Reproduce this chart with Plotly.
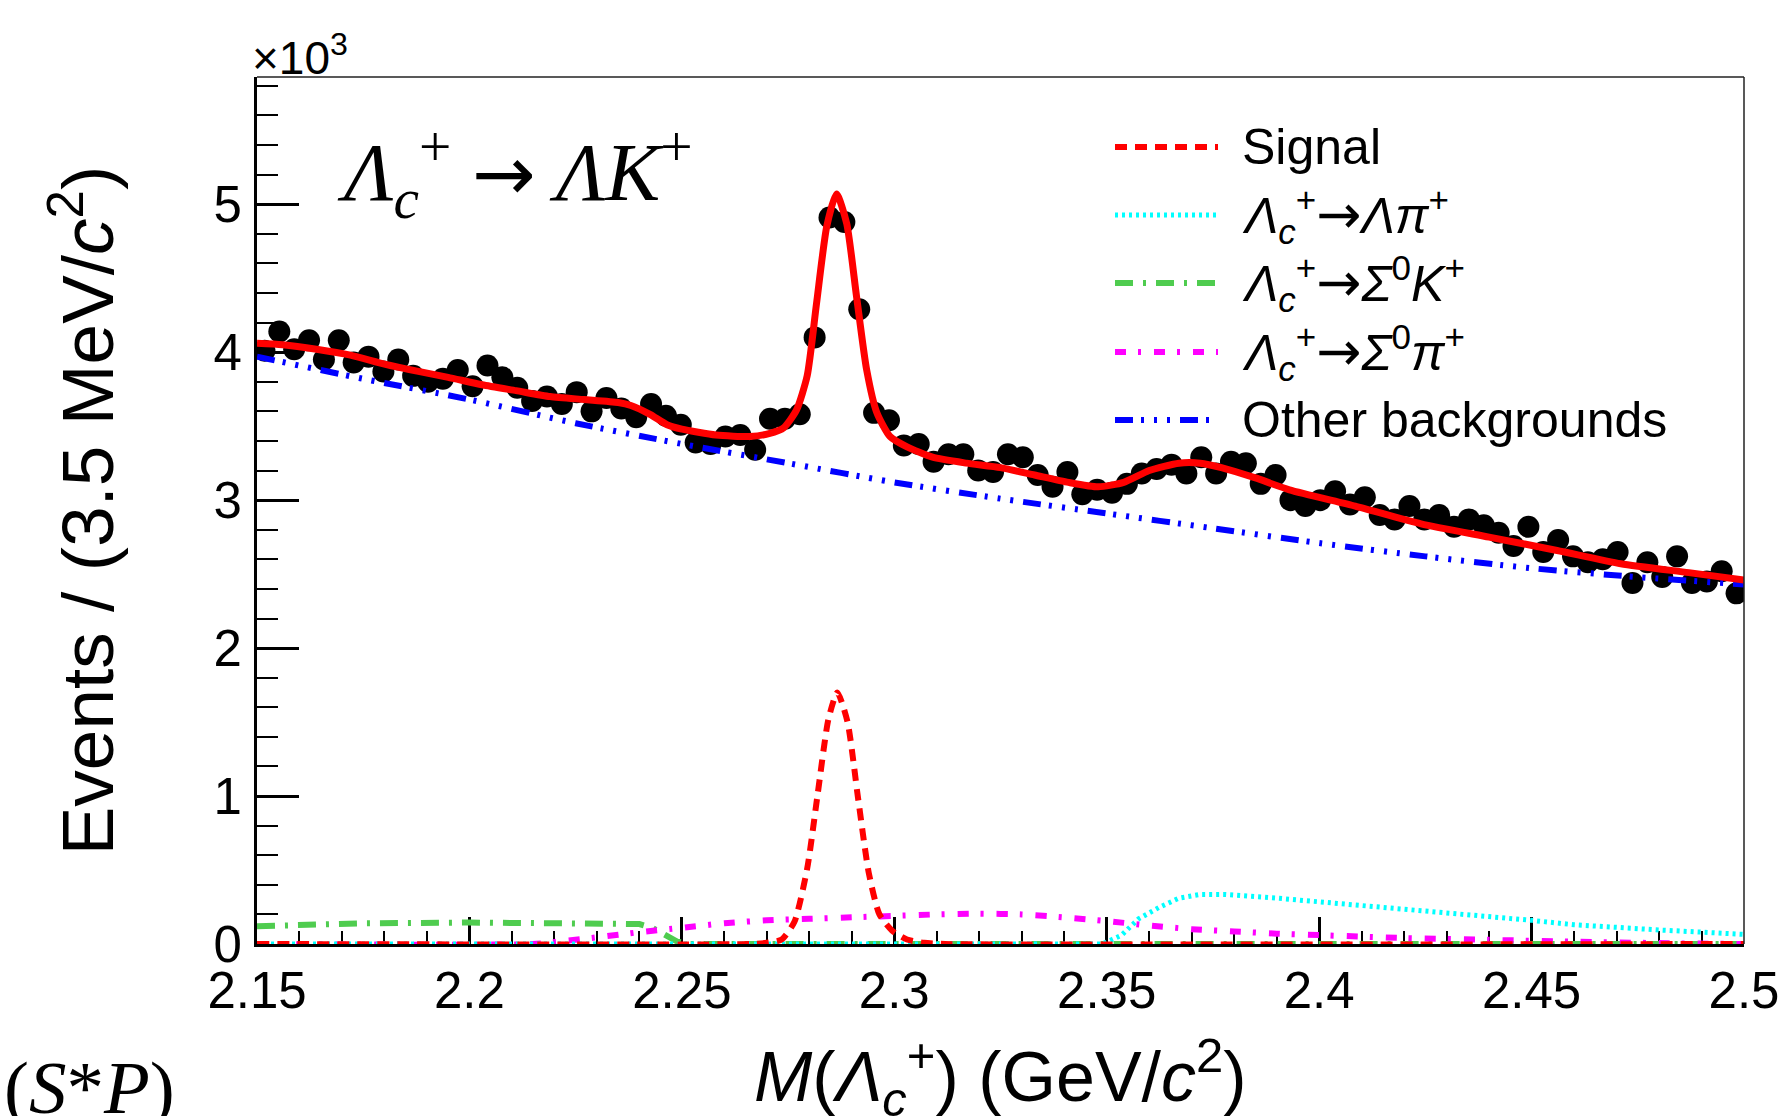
import plotly.graph_objects as go

# ---- Λc+ -> ΛK+ candidate mass spectrum, 3.5 MeV/c^2 bins from 2.15 GeV/c^2 ----
BIN_LO = 2.15
BIN_WIDTH = 0.0035

data_counts = [
    4010, 4140, 4020, 4080, 3950, 4080, 3930, 3970, 3870, 3950,
    3840, 3800, 3820, 3880, 3770, 3910, 3830, 3760, 3670, 3700,
    3650, 3730, 3600, 3690, 3620, 3560, 3650, 3570, 3510, 3390,
    3380, 3430, 3440, 3340, 3550, 3550, 3580, 4100, 4910, 4880,
    4290, 3590, 3540, 3370, 3380, 3260, 3310, 3310, 3200, 3190,
    3310, 3290, 3170, 3090, 3190, 3040, 3070, 3050, 3110, 3180,
    3210, 3240, 3180, 3290, 3180, 3260, 3250, 3110, 3170, 3000,
    2960, 3000, 3060, 2970, 3020, 2900, 2870, 2960, 2870, 2900,
    2820, 2870, 2830, 2780, 2690, 2820, 2650, 2730, 2620, 2580,
    2600, 2650, 2440, 2580, 2480, 2620, 2440, 2450, 2520, 2370,
]
bin_centers = [round(BIN_LO + BIN_WIDTH * (i + 0.5), 5) for i in range(len(data_counts))]

# ---- fit curves, sampled along M(Λc+) in GeV/c^2, events per bin ----
total_mass = [2.15, 2.156, 2.164, 2.172, 2.18, 2.188, 2.195, 2.203, 2.211, 2.219,
              2.227, 2.235, 2.238, 2.2425, 2.2465, 2.25, 2.258, 2.266, 2.2705, 2.274,
              2.277, 2.2795, 2.2817, 2.2841, 2.2864, 2.2888, 2.2911, 2.2935, 2.2959, 2.299,
              2.303, 2.309, 2.317, 2.325, 2.333, 2.341, 2.348, 2.354, 2.36, 2.367,
              2.372, 2.377, 2.385, 2.393, 2.4085, 2.424, 2.44, 2.456, 2.471, 2.487, 2.5]
total_fit = [4060, 4050, 4020, 3980, 3920, 3870, 3830, 3780, 3740, 3700,
             3680, 3660, 3640, 3580, 3510, 3480, 3440, 3430, 3450, 3490,
             3610, 3840, 4330, 4850, 5070, 4870, 4380, 3880, 3590, 3430,
             3360, 3290, 3250, 3220, 3170, 3120, 3090, 3120, 3200, 3250,
             3250, 3220, 3150, 3070, 2960, 2840, 2750, 2660, 2570, 2510, 2460]

other_mass = [2.15, 2.175, 2.2, 2.225, 2.25, 2.275, 2.3, 2.325, 2.35, 2.375,
              2.4, 2.425, 2.45, 2.475, 2.5]
other_bkg = [3970, 3820, 3680, 3520, 3380, 3250, 3120, 3010, 2910, 2810,
             2710, 2620, 2540, 2480, 2430]

signal_mass = [2.15, 2.266, 2.27, 2.2735, 2.2765, 2.2795, 2.282, 2.2845, 2.2866, 2.289,
               2.2915, 2.294, 2.2965, 2.2995, 2.303, 2.307, 2.312, 2.5]
signal = [0, 0, 8, 30, 150, 510, 1020, 1520, 1700, 1500,
          980, 480, 200, 90, 30, 8, 0, 0]

lampi_mass = [2.15, 2.349, 2.3535, 2.3575, 2.3625, 2.367, 2.372, 2.378, 2.39, 2.4,
              2.41, 2.42, 2.43, 2.44, 2.45, 2.46, 2.47, 2.48, 2.49, 2.5]
lampi = [0, 0, 60, 170, 250, 310, 335, 335, 310, 285,
         260, 235, 210, 190, 160, 130, 110, 95, 80, 65]

sigk_mass = [2.15, 2.16, 2.175, 2.2, 2.225, 2.236, 2.24, 2.243, 2.246, 2.249, 2.252, 2.5]
sigk = [120, 130, 140, 145, 145, 142, 135, 110, 60, 15, 0, 0]

sigpi_mass = [2.15, 2.215, 2.222, 2.23, 2.24, 2.25, 2.26, 2.27, 2.28, 2.29,
              2.3, 2.31, 2.32, 2.33, 2.34, 2.35, 2.36, 2.37, 2.38, 2.39,
              2.4, 2.42, 2.44, 2.46, 2.48, 2.5]
sigpi = [0, 0, 20, 45, 80, 110, 140, 160, 170, 180,
         190, 200, 205, 200, 180, 155, 125, 100, 85, 70,
         60, 40, 28, 16, 6, 0]

y_tick_vals = [0, 1000, 2000, 3000, 4000, 5000]
y_tick_text = ["0", "1", "2", "3", "4", "5"]

# ---- styles ----
SANS = "Liberation Sans, Arial, Helvetica, sans-serif"
SERIF = "Liberation Serif, Times New Roman, serif"

styles = {
    "signal": dict(color="#ff0000", width=6, dash="12px,8px"),
    "lampi": dict(color="#00ffff", width=5, dash="3px,4px"),
    "sigk": dict(color="#4fcc4f", width=6, dash="18px,10px,3px,10px"),
    "sigpi": dict(color="#ff00ff", width=6, dash="11px,12px,3px,13px"),
    "other": dict(color="#0000ff", width=6, dash="18px,8px,3px,10px,3px,10px,3px,10px"),
}

fig = go.Figure()

fig.add_trace(go.Scatter(x=bin_centers, y=data_counts, mode="markers",
                         marker=dict(size=22, color="black"), name="Data"))
fig.add_trace(go.Scatter(x=other_mass, y=other_bkg, mode="lines",
                         line=dict(shape="spline", smoothing=0.8, **styles["other"]),
                         name="Other backgrounds"))
fig.add_trace(go.Scatter(x=sigk_mass, y=sigk, mode="lines",
                         line=dict(shape="linear", **styles["sigk"]), name="Σ0K+"))
fig.add_trace(go.Scatter(x=sigpi_mass, y=sigpi, mode="lines",
                         line=dict(shape="spline", smoothing=0.6, **styles["sigpi"]), name="Σ0π+"))
fig.add_trace(go.Scatter(x=lampi_mass, y=lampi, mode="lines",
                         line=dict(shape="linear", **styles["lampi"]), name="Λπ+"))
fig.add_trace(go.Scatter(x=signal_mass, y=signal, mode="lines",
                         line=dict(shape="spline", smoothing=0.6, **styles["signal"]), name="Signal"))
fig.add_trace(go.Scatter(x=total_mass, y=total_fit, mode="lines",
                         line=dict(shape="spline", smoothing=0.6, color="#ff0000", width=7),
                         name="Fit"))

# ---- plot-area geometry (pixels) ----
W, H = 1784, 1116
L, R, T, B = 257, 40, 77, 172
PW, PH = W - L - R, H - T - B


def px(xpix):
    return (xpix - L) / PW


def py(ypix):
    return (H - B - ypix) / PH


def arrow(size):
    return '<span style="font-family:DejaVu Sans;font-size:%dpx">→</span>' % size


LC = "<i>Λ</i><sub><i>c</i></sub><sup>+</sup>"
NB = "\u00a0"

fig.update_layout(
    width=W, height=H,
    margin=dict(l=L, r=R, t=T, b=B, pad=0, autoexpand=False),
    plot_bgcolor="white", paper_bgcolor="white",
    showlegend=False,
    font=dict(family=SANS, color="black", size=51),
)

fig.update_xaxes(
    range=[2.15, 2.5], tick0=2.15, dtick=0.05,
    ticks="inside", ticklen=27, tickwidth=2.5, tickcolor="black",
    minor=dict(dtick=0.01, ticks="inside", ticklen=13, tickwidth=2, tickcolor="black"),
    showline=True, linewidth=3, linecolor="black",
    showgrid=False, zeroline=False, layer="below traces",
    tickfont=dict(family=SANS, size=51, color="black"),
    ticklabelstandoff=0, automargin=False,
)
fig.update_yaxes(
    range=[0, 5860], tickvals=y_tick_vals, ticktext=y_tick_text,
    ticks="inside", ticklen=42, tickwidth=2.5, tickcolor="black",
    minor=dict(dtick=200, ticks="inside", ticklen=21, tickwidth=2, tickcolor="black"),
    showline=True, linewidth=3, linecolor="black",
    showgrid=False, zeroline=False, layer="below traces",
    tickfont=dict(family=SANS, size=51, color="black"),
    ticklabelstandoff=2, automargin=False,
    title=dict(text="Events / (3.5 MeV/<i>c</i><sup>2</sup>)",
               font=dict(family=SANS, size=73, color="black"), standoff=76),
)

shapes = [
    # thin top and right edges of the frame
    dict(type="line", xref="paper", yref="paper", x0=0, x1=1, y0=1, y1=1,
         line=dict(color="#222222", width=1.5)),
    dict(type="line", xref="paper", yref="paper", x0=1, x1=1, y0=0, y1=1,
         line=dict(color="#222222", width=1.5)),
]

legend_rows = [
    ("signal", "Signal"),
    ("lampi", LC + arrow(54) + "<i>Λπ</i><sup>+</sup>"),
    ("sigk", LC + arrow(54) + "<i>Σ</i><sup>0</sup><i>K</i><sup>+</sup>"),
    ("sigpi", LC + arrow(54) + "<i>Σ</i><sup>0</sup><i>π</i><sup>+</sup>"),
    ("other", "Other backgrounds"),
]
row_y = [147, 215, 283, 352, 420]

annotations = []
for (key, label), yy in zip(legend_rows, row_y):
    st = styles[key]
    shapes.append(dict(type="line", xref="paper", yref="paper",
                       x0=px(1115), x1=px(1218), y0=py(yy), y1=py(yy),
                       line=dict(color=st["color"], width=st["width"], dash=st["dash"])))
    annotations.append(dict(xref="paper", yref="paper", x=px(1240), y=py(yy),
                            xanchor="left", yanchor="middle", showarrow=False,
                            text=label, font=dict(family=SANS, size=50, color="black")))

annotations += [
    # x-axis title
    dict(xref="paper", yref="paper", x=0.5, y=py(1077), xanchor="center", yanchor="middle",
         showarrow=False,
         text="<i>M</i>(" + LC + ") (GeV/<i>c</i><sup>2</sup>)",
         font=dict(family=SANS, size=70, color="black")),
    dict(xref="paper", yref="paper", x=px(250), y=py(86), xanchor="left", yanchor="bottom",
         showarrow=False, text="×10<sup>3</sup>", font=dict(family=SANS, size=46, color="black")),
    dict(xref="paper", yref="paper", x=px(335), y=py(172), xanchor="left", yanchor="middle",
         showarrow=False,
         text=LC + NB + arrow(76) + NB + "<i>ΛK</i><sup>+</sup>",
         font=dict(family=SERIF, size=82, color="black")),
    dict(xref="paper", yref="paper", x=px(2), y=py(1087), xanchor="left", yanchor="middle",
         showarrow=False, text="(<i>S</i>*<i>P</i>)",
         font=dict(family=SERIF, size=75, color="black")),
]

fig.update_layout(shapes=shapes, annotations=annotations)

fig.write_html("out.html")
